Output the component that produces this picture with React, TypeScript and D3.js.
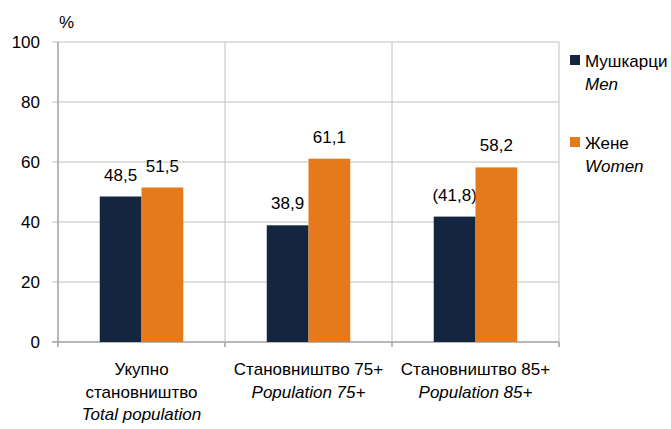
import React from "react";
import * as d3 from "d3";

const categories = ["total", "p75", "p85"];
const catLines: { text: string; italic: boolean }[][] = [
  [
    { text: "Укупно", italic: false },
    { text: "становништво", italic: false },
    { text: "Total population", italic: true },
  ],
  [
    { text: "Становништво 75+", italic: false },
    { text: "Population 75+", italic: true },
  ],
  [
    { text: "Становништво 85+", italic: false },
    { text: "Population 85+", italic: true },
  ],
];
const menValues = [48.5, 38.9, 41.8];
const womenValues = [51.5, 61.1, 58.2];
const menLabels = ["48,5", "38,9", "(41,8)"];
const womenLabels = ["51,5", "61,1", "58,2"];
const yTicks = [0, 20, 40, 60, 80, 100];

const W = 671;
const H = 429;
const left = 58;
const right = 559;
const top = 42;
const bottom = 342;
const NAVY = "#14253f";
const ORANGE = "#e57a1c";
const FONT = "'Liberation Sans', Arial, sans-serif";
const FS = 17;

export default function App() {
  const x = d3.scaleBand<string>().domain(categories).range([left, right]);
  const y = d3.scaleLinear().domain([0, 100]).range([bottom, top]);
  const bw = x.bandwidth() / 4;
  const series = [
    { name: "men", values: menValues, labels: menLabels, color: NAVY, off: 1 },
    { name: "women", values: womenValues, labels: womenLabels, color: ORANGE, off: 2 },
  ];
  return (
    <svg
      width={W}
      height={H}
      style={{ position: "absolute", left: 0, top: 0, fontFamily: FONT }}
    >
      <rect width={W} height={H} fill="#fff" />
      {yTicks.map((t) => (
        <g key={t}>
          <line x1={left - 6} x2={right} y1={y(t)} y2={y(t)} stroke={t === 0 ? "#a0a0a0" : "#c0c0c0"} strokeWidth={t === 0 ? 1.5 : 1} />
          <text x={40} y={y(t) + 6} fontSize={FS} textAnchor="end" fill="#000">
            {t}
          </text>
        </g>
      ))}
      {categories.map((c) => (
        <line key={c} x1={(x(c) as number) + x.bandwidth()} x2={(x(c) as number) + x.bandwidth()} y1={top} y2={bottom} stroke="#c0c0c0" />
      ))}
      <line x1={left} x2={left} y1={top} y2={bottom + 5} stroke="#a0a0a0" strokeWidth={1.5} />
      {categories.map((c) => (
        <line key={"t" + c} x1={(x(c) as number) + x.bandwidth()} x2={(x(c) as number) + x.bandwidth()} y1={bottom} y2={bottom + 5} stroke="#a0a0a0" strokeWidth={1.5} />
      ))}
      <text x={59} y={28} fontSize={FS} fill="#000">%</text>
      {series.map((s) =>
        categories.map((c, i) => {
          const bx = (x(c) as number) + bw * s.off;
          const by = y(s.values[i]);
          return (
            <g key={s.name + c}>
              <rect x={bx} y={by} width={bw} height={bottom - by} fill={s.color} />
              <text x={bx + bw / 2} y={by - 16} fontSize={FS} textAnchor="middle" fill="#000">
                {s.labels[i]}
              </text>
            </g>
          );
        })
      )}
      {categories.map((c, i) => (
        <g key={"l" + c}>
          {catLines[i].map((ln, j) => (
            <text
              key={j}
              x={(x(c) as number) + x.bandwidth() / 2}
              y={375 + j * 22.5}
              fontSize={FS}
              textAnchor="middle"
              fontStyle={ln.italic ? "italic" : "normal"}
              fill="#000"
            >
              {ln.text}
            </text>
          ))}
        </g>
      ))}
      <rect x={570} y={55} width={10} height={10} fill={NAVY} />
      <text x={585} y={67} fontSize={FS} fill="#000">Мушкарци</text>
      <text x={585} y={90} fontSize={FS} fontStyle="italic" fill="#000">Men</text>
      <rect x={570} y={137} width={10} height={10} fill={ORANGE} />
      <text x={585} y={149} fontSize={FS} fill="#000">Жене</text>
      <text x={585} y={172} fontSize={FS} fontStyle="italic" fill="#000">Women</text>
    </svg>
  );
}
